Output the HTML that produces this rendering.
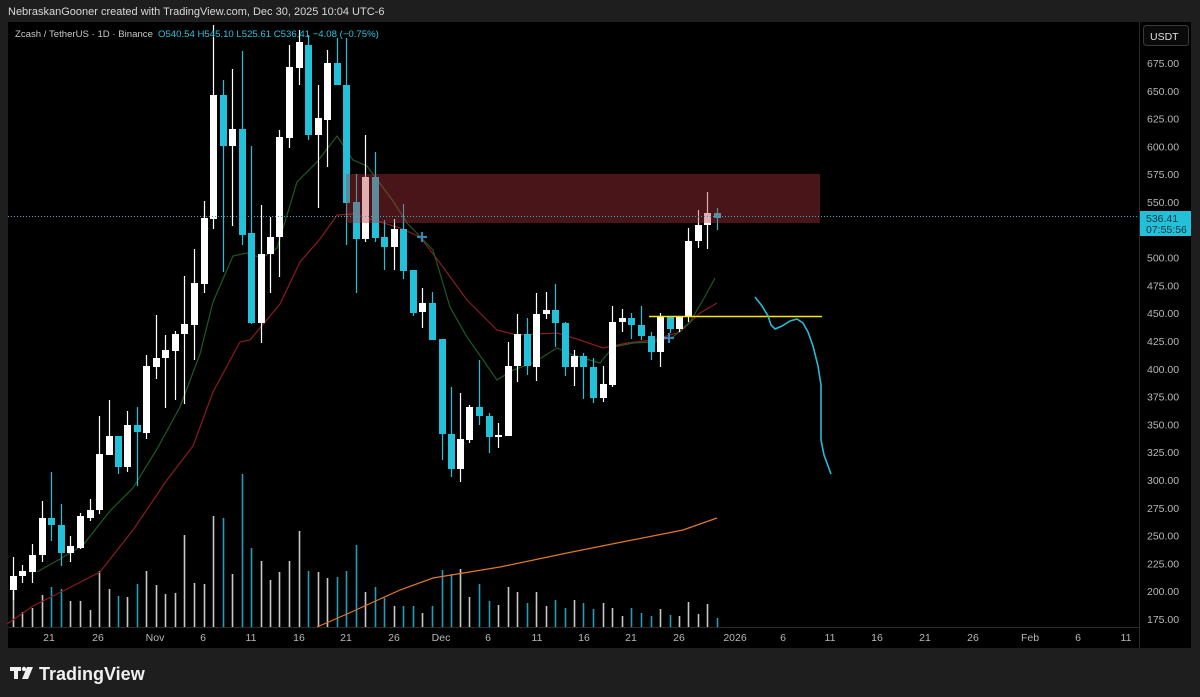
<!DOCTYPE html>
<html><head><meta charset="utf-8"><style>
html,body{margin:0;padding:0;background:#1e1e1e;width:1200px;height:697px;overflow:hidden;font-family:"Liberation Sans",sans-serif}
svg{display:block}
</style></head><body>
<svg id="s" width="1200" height="697" xmlns="http://www.w3.org/2000/svg" font-family="Liberation Sans, sans-serif">
<rect x="0" y="0" width="1200" height="697" fill="#1e1e1e"/>
<text x="8" y="15" font-size="11" fill="#d8d8d8">NebraskanGooner created with TradingView.com, Dec 30, 2025 10:04 UTC-6</text>
<rect x="8" y="22" width="1183" height="626" fill="#000"/>
<line x1="1139.5" y1="22" x2="1139.5" y2="648" stroke="#2a2a2a"/>
<line x1="8" y1="627.5" x2="1139" y2="627.5" stroke="#2a2a2a"/>
<g id="vol"></g>
<g id="ma" fill="none" stroke-width="1.2">
<polyline stroke="#e0782c" points="317,627 347,614 380,599 400,590 433,578 500,567 567,553 617,543 683,530 717,518"/>
<polyline stroke="#8b1c1c" points="7,624 33,606 67,589 100,572 133,530 167,480 193,446 213,392 240,342 250,340 280,304 300,262 320,239 337,215 353,214 380,222 400,228 420,237 440,263 467,300 497,330 517,335 557,333 580,340 603,348 627,343 653,340 680,332 700,313 717,303"/>
<polyline stroke="#1d5a22" points="37,572 60,559 83,545 110,511 133,488 157,449 180,407 200,354 213,302 233,256 247,253 262,258 277,248 297,182 317,162 337,136 353,160 367,166 393,201 407,223 433,250 450,307 467,337 497,380 513,370 533,363 557,348 573,355 600,363 613,347 633,343 653,342 673,337 690,322 703,300 715,278"/>
</g>
<g id="cd"></g>
<rect x="346" y="174" width="474" height="49" fill="rgb(185,52,60)" fill-opacity="0.4"/>
<line x1="8" y1="216.5" x2="1139" y2="216.5" stroke="#2aaed0" stroke-dasharray="1,2" stroke-width="1"/>
<line x1="649" y1="316.5" x2="822" y2="316.5" stroke="#f2e800" stroke-width="1.6"/>
<polyline fill="none" stroke="#2cb8d6" stroke-width="1.6" points="755,297 762,306 768,316 771,325 775,329 782,326 790,321 797,319 803,323 808,332 813,346 818,366 821,385 821,440 824,455 831,474"/>
<g stroke="#3e84b8" stroke-width="2.2"><line x1="417" y1="237" x2="427" y2="237"/><line x1="422" y1="232" x2="422" y2="242"/><line x1="664" y1="338" x2="674" y2="338"/><line x1="669" y1="333" x2="669" y2="343"/></g>
<text x="15" y="37" font-size="9.6" fill="#c8c8c8">Zcash / TetherUS · 1D · Binance</text>
<text x="158" y="37" font-size="9.6" fill="#2cc3dc">O540.54  H545.10  L525.61  C536.41  −4.08 (−0.75%)</text>
<rect x="1143.5" y="25.5" width="45" height="20" rx="3" fill="#0a0a0a" stroke="#3a3a3a"/>
<text x="1150" y="40" font-size="10.5" fill="#e0e0e0">USDT</text>
<g font-size="10.5" fill="#b8b8b8" id="pl"></g>
<rect x="1140" y="211" width="51" height="25" fill="#22c1d9"/>
<text x="1146" y="222" font-size="10.5" fill="#10333a">536.41</text>
<text x="1146" y="233" font-size="10.5" fill="#10333a">07:55:56</text>
<g font-size="10.5" fill="#b8b8b8" text-anchor="middle">
<text x="49" y="641">21</text><text x="98" y="641">26</text><text x="155" y="641">Nov</text><text x="203" y="641">6</text><text x="251" y="641">11</text><text x="299" y="641">16</text><text x="346" y="641">21</text><text x="394" y="641">26</text><text x="441" y="641">Dec</text><text x="488" y="641">6</text><text x="537" y="641">11</text><text x="584" y="641">16</text><text x="631" y="641">21</text><text x="679" y="641">26</text><text x="735" y="641">2026</text><text x="783" y="641">6</text><text x="830" y="641">11</text><text x="877" y="641">16</text><text x="925" y="641">21</text><text x="973" y="641">26</text><text x="1030" y="641">Feb</text><text x="1078" y="641">6</text><text x="1126" y="641">11</text>
</g>
<g fill="#f0f0f0"><rect x="10" y="667" width="11" height="4"/><rect x="14" y="667" width="4" height="12"/><circle cx="24" cy="669" r="2.2"/><polygon points="27,667 33,667 28,679 22,679"/></g>
<text x="39" y="680" font-size="18" font-weight="bold" fill="#f0f0f0">TradingView</text>
</svg>
<script>
var d=[
[13,576,590,557,600,'w',591],[22,571,576,565,583,'w',612],[32,555,572,544,583,'w',608],[42,518,555,501,562,'w',595],[51,518,525,472,541,'c',587],[61,525,553,504,566,'c',589],[70,546,553,536,562,'w',601],[80,516,548,513,549,'w',601],[90,510,518,499,521,'w',610],[99,454,510,416,514,'w',571],
[109,436,455,400,455,'w',589],[118,436,467,436,474,'c',596],[127,425,467,411,472,'w',597],[137,425,432,407,486,'c',584],[146,366,433,355,439,'w',571],[156,358,367,315,379,'w',585],[165,350,358,335,408,'w',594],[175,334,351,331,400,'w',593],[184,324,334,276,404,'w',535],[194,283,325,249,360,'w',583],
[204,218,284,201,293,'w',584],[213,95,219,25,229,'w',516],[223,95,146,80,272,'c',518],[232,129,146,69,226,'w',574],[242,129,235,51,245,'c',474],[251,233,323,146,324,'c',548],[261,254,323,205,343,'w',561],[270,237,254,217,293,'w',580],[279,137,237,130,277,'w',572],[289,67,138,45,148,'w',561],
[299,42,68,30,85,'w',531],[308,45,135,35,140,'c',571],[318,118,135,85,208,'w',572],[327,63,120,50,167,'w',578],[337,63,85,38,85,'c',577],[346,85,203,38,245,'c',571],[356,202,239,174,293,'c',545],[365,177,239,135,242,'w',592],[375,177,238,152,242,'c',587],[384,237,247,220,270,'c',598],
[394,229,247,219,270,'w',606],[403,229,271,204,279,'c',606],[413,270,313,270,316,'c',606],[422,303,312,288,328,'w',613],[432,303,340,292,340,'c',606],[442,339,434,339,460,'c',570],[451,434,469,387,477,'c',574],[460,439,469,393,482,'w',569],[469,407,440,405,443,'w',597],[479,407,416,360,425,'c',584],
[489,416,437,413,453,'c',601],[498,435,437,423,448,'w',605],[508,366,436,342,436,'w',587],[517,334,366,314,382,'w',592],[527,334,366,318,375,'c',603],[536,314,367,293,381,'w',592],[546,310,314,292,319,'w',606],[555,310,323,284,347,'c',600],[565,323,367,322,376,'c',608],[574,356,367,350,386,'w',600],
[583,356,367,353,399,'c',603],[593,367,398,358,403,'c',609],[603,384,398,366,402,'w',603],[612,322,385,306,387,'w',608],[622,318,322,309,332,'w',616],[631,318,325,313,339,'c',608],[641,325,336,306,340,'c',613],[651,336,352,332,360,'c',616],[660,317,352,313,367,'w',609],[670,317,329,317,333,'c',615],
[679,317,329,316,332,'w',616],[688,241,317,228,322,'w',602],[698,225,241,210,248,'w',614],[707,213,225,192,249,'w',604],[717,213,218,208,230,'c',618]];
var NS='http://www.w3.org/2000/svg';
function el(p,t,a){var e=document.createElementNS(NS,t);for(var k in a)e.setAttribute(k,a[k]);document.getElementById(p).appendChild(e);}
d.forEach(function(c){
 var col=c[5]=='w'?'#ffffff':'#22c1d9';
 var vc=c[5]=='w'?'#c8c8c8':'#1f9fb8';
 el('vol','line',{x1:c[0]+.5,x2:c[0]+.5,y1:c[6],y2:627,stroke:vc,'stroke-width':1.6});
 el('cd','line',{x1:c[0]+.5,x2:c[0]+.5,y1:c[3],y2:c[4],stroke:col,'stroke-width':1.2});
 el('cd','rect',{x:c[0]-3,y:c[1],width:7,height:Math.max(1.5,c[2]-c[1]),fill:col});
});
for(var p=675;p>=175;p-=25){var y=63+(675-p)*1.112;var t=document.createElementNS(NS,'text');t.setAttribute('x',1147);t.setAttribute('y',y+4);t.textContent=p.toFixed(2);document.getElementById('pl').appendChild(t);}
</script>
</body></html>
